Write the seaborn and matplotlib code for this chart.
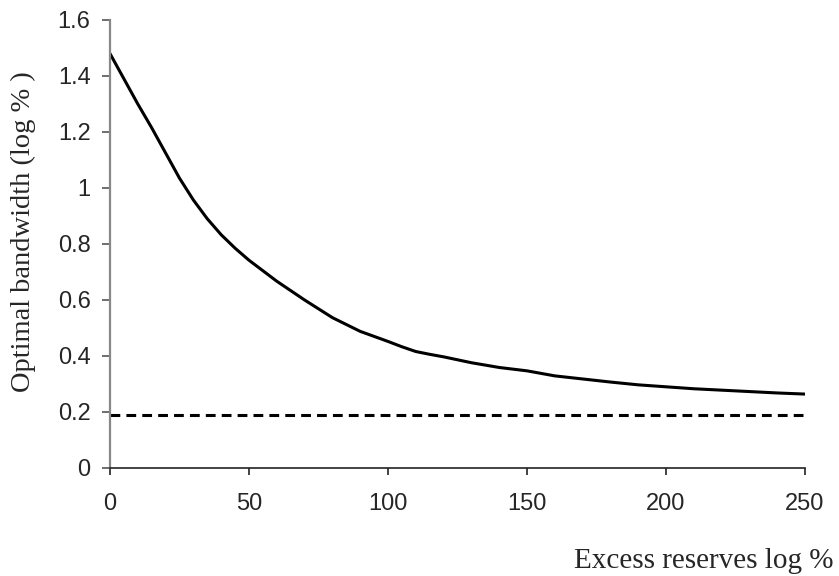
"""Optimal bandwidth against excess reserves, with the flat benchmark line."""
import matplotlib
matplotlib.use("Agg")
import matplotlib.pyplot as plt
import pandas as pd
import seaborn as sns

# values
excess_reserves = [0, 5, 10, 15, 20, 25, 30, 35, 40, 45, 50, 60, 70, 80, 90,
                   100, 105, 110, 115, 120, 130, 140, 150, 160, 170, 180,
                   190, 200, 210, 220, 230, 240, 250]
optimal_bandwidth = [1.48, 1.39, 1.30, 1.215, 1.125, 1.035, 0.957, 0.89,
                     0.833, 0.785, 0.742, 0.667, 0.60, 0.537, 0.488, 0.452,
                     0.433, 0.416, 0.406, 0.397, 0.376, 0.359, 0.347, 0.329,
                     0.318, 0.307, 0.297, 0.290, 0.283, 0.278, 0.273, 0.268,
                     0.264]
benchmark_x = [0, 250]
benchmark_y = [0.19, 0.19]

x_ticks = [0, 50, 100, 150, 200, 250]
y_ticks = [0, 0.2, 0.4, 0.6, 0.8, 1, 1.2, 1.4, 1.6]
y_tick_labels = ["0", "0.2", "0.4", "0.6", "0.8", "1", "1.2", "1.4", "1.6"]

sns.set_style("ticks")
plt.rcParams["font.family"] = ["Liberation Sans", "DejaVu Sans"]

curve = pd.DataFrame({"x": excess_reserves, "y": optimal_bandwidth})
bench = pd.DataFrame({"x": benchmark_x, "y": benchmark_y})

fig = plt.figure(figsize=(8.39, 5.76), dpi=100)
ax = fig.add_axes([110 / 839, 1 - 468 / 576, 695 / 839, 448 / 576])

sns.lineplot(data=curve, x="x", y="y", ax=ax, color="black", linewidth=2.2)
sns.lineplot(data=bench, x="x", y="y", ax=ax, color="black", linewidth=2.2,
             dashes=False)
ax.lines[-1].set_dashes((3.2, 2.0))
ax.lines[-1].set_dash_capstyle("butt")

ax.set_xlim(0, 250)
ax.set_ylim(0, 1.6)
ax.set_xticks(x_ticks)
ax.set_xticklabels([str(t) for t in x_ticks])
ax.set_yticks(y_ticks)
ax.set_yticklabels(y_tick_labels)
ax.tick_params(axis="both", labelsize=17, direction="out")
ax.tick_params(axis="x", length=5, width=1.2, color="#222222", pad=13)
ax.tick_params(axis="y", length=6, width=1.2, color="#555555", pad=8)

sns.despine(ax=ax)
ax.spines["left"].set_color("#888888")
ax.spines["left"].set_linewidth(1.6)
ax.spines["bottom"].set_color("#222222")
ax.spines["bottom"].set_linewidth(1.2)

ax.set_xlabel("")
ax.set_ylabel("")
fig.text(833 / 839, 1 - 561 / 576, "Excess reserves log %", ha="right",
         va="center", fontsize=21, family="Liberation Serif")
fig.text(23 / 839, 1 - 232 / 576, "Optimal bandwidth (log % )", ha="center",
         va="center", rotation=90, fontsize=20.5, family="Liberation Serif")

fig.savefig("out.png", dpi=100)
